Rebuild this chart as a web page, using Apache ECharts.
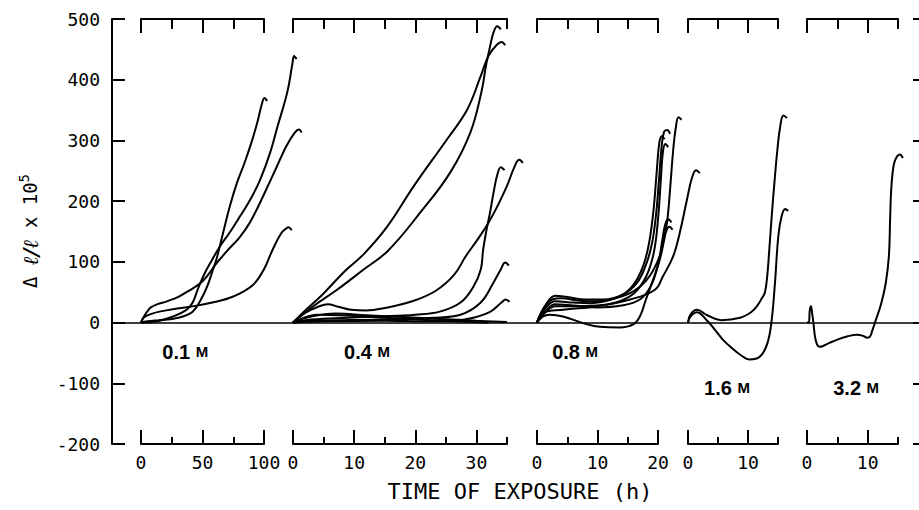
<!DOCTYPE html>
<html><head><meta charset="utf-8">
<script src="https://cdn.jsdelivr.net/npm/echarts@6/dist/echarts.min.js"></script>
<style>html,body{margin:0;padding:0;background:#fff}#c{width:919px;height:510px}</style>
</head><body><div id="c"></div>
<script>
// ---------- data ----------
const yTickValues = [-200, -100, 0, 100, 200, 300, 400, 500];
const panelNames = ['0.1', '0.4', '0.8', '1.6', '3.2'];
const panelMax = [100, 35, 20, 15, 15];
const majorTicks = [[0, 50, 100], [0, 10, 20, 30], [0, 10, 20], [0, 10], [0, 10]];
const minorTicks = [[25, 75], [5, 15, 25, 35], [5, 15], [5, 15], [5, 15]];

// 0.1 M
const m01_a = [[0,0],[5,2],[15,4],[25,6],[34,10],[42,18],[48,35],[53.7,59],[58.5,87],[62,109],[67,150],[72,190],[78,230],[84,262],[90,298],[95,333],[98,358],[100.5,370],[102.5,365]];
const m01_b = [[0,0],[13,2],[26,10],[37,21],[42,33],[46,54],[52,82],[58,104],[64,125],[72,148],[80.5,175],[89,203],[97,236],[105,280],[111,323],[119,380],[123,425],[124.5,439],[126.5,434]];
const m01_c = [[0,0],[3,12],[5,18],[8,25],[13,30],[21,35],[30,42],[37,50],[50,68],[62,99],[70,118],[80,140],[88,163],[95,190],[102,220],[110,255],[118,290],[125,313],[128.5,318],[130.5,313]];
const m01_d = [[0,0],[2,8],[8,14],[15,18],[29,23],[40,26],[58,33],[75,43],[91,62],[100,88],[107,120],[114,147],[118,155],[120,157],[122.5,152]];
// 0.4 M
const m04_a = [[0,0],[2,20],[5,48],[8.5,85],[11.5,112],[15.4,158],[19.7,224],[25.2,302],[28.5,351],[30.7,406],[32,440],[33.2,456],[34.1,462],[34.7,457]];
const m04_b = [[0,0],[3.3,27],[7.2,54],[11.5,87],[15.5,118],[20.8,181],[25.7,247],[29,313],[30.8,379],[31.6,425],[32.3,458],[32.8,478],[33.4,488],[34,483]];
const m04_c = [[0,0],[2,16],[4.1,26],[5.7,30],[7.4,26],[9.5,21],[12,20],[15,24],[19.5,35],[23.3,52],[26.3,78],[28.3,110],[30.2,137],[32,165],[33.5,193],[35,225],[36.2,256],[37,268],[37.6,263]];
const m04_d = [[0,0],[3,5],[9,8],[14,10],[20,13],[24,18],[27.4,33],[29.5,59],[30.7,87],[31.1,120],[31.6,150],[32.2,180],[32.8,214],[33.4,243],[34,256],[34.6,251]];
const m04_e = [[0,0],[3.3,3],[14.3,5],[23,8],[27.4,13],[30.7,33],[32.8,66],[34,88],[34.7,99],[35.3,94]];
const m04_f = [[0,0],[5,2],[15,3],[22,2],[26,3],[29.5,8],[32.3,18],[34.1,33],[34.8,38],[35.4,34]];
const m04_g = [[0,0],[4,13],[10,11],[15,8],[20.5,5],[26,2],[32,0]];
const m04_h = [[0,0],[3,10],[7,15],[12,12],[18,9],[24,6],[30,3],[35,1]];
// 0.8 M
const m08_a = [[0,0],[1,22],[2.5,38],[4,40],[7,36],[10,35],[13,40],[16,52],[18.5,75],[20.3,110],[21,140],[21.5,165],[22,220],[22.5,283],[22.9,318],[23.4,338],[23.9,334]];
const m08_b = [[0,0],[1.5,30],[3,44],[5,42],[8,38],[11,38],[14,45],[16.5,65],[18,95],[19,130],[19.7,180],[20.2,240],[20.6,290],[21,314],[21.5,317],[22,311]];
const m08_c = [[0,0],[1.5,25],[3,35],[6,33],[9,32],[12,37],[15,52],[17,80],[18.3,120],[19.2,180],[19.8,250],[20.2,295],[20.6,307],[21.1,302]];
const m08_d = [[0,0],[1.5,18],[3,27],[6,27],[10,28],[13,33],[16,48],[18,75],[19.3,115],[20,170],[20.5,240],[20.8,280],[21.2,294],[21.7,289]];
const m08_e = [[0,0],[1,16],[4.3,21],[10,27],[15.4,38],[19.5,54],[20.8,76],[22.5,109],[23.6,148],[24.8,203],[25.6,238],[26.3,251],[26.9,246]];
const m08_f = [[0,0],[1.5,20],[3,30],[6,28],[10,25],[14,28],[17,38],[18.8,60],[20,95],[20.7,135],[21.2,162],[21.7,170],[22.2,165]];
const m08_g = [[0,0],[1,10],[2.1,13],[4.3,10],[8.3,-3],[10.4,-7],[13.7,-8],[15.9,-3],[17,10],[18,38],[19.2,71],[20.3,104],[21,135],[21.4,152],[21.9,158],[22.4,153]];
// 1.6 M
const m16_a = [[0,0],[0.4,13],[1.5,21],[3.2,12],[5.5,4],[8.7,8],[10.5,17],[11.5,27],[12.3,40],[12.8,49],[13.2,76],[13.55,120],[13.95,175],[14.4,230],[14.9,285],[15.4,325],[15.9,341],[16.5,337]];
const m16_b = [[0,0],[0.4,10],[1.5,17],[3.2,3],[4.5,-12],[5.8,-28],[7.3,-42],[8.7,-53],[10.3,-61],[12,-56],[13.2,-35],[13.9,0],[14.5,66],[15.05,142],[15.6,175],[16.2,187],[16.7,184]];
// 3.2 M
const m32_a = [[0,0],[0.3,0],[0.45,20],[0.65,27],[0.85,15],[1.05,0],[1.35,-25],[1.7,-37],[2.1,-40],[3,-37],[3.8,-33],[5,-28],[6.6,-23],[8.2,-20],[9.3,-22],[9.9,-25],[10.4,-23],[10.8,-12],[11.2,0],[12.2,30],[13,66],[13.5,110],[13.7,170],[13.9,222],[14.3,260],[14.8,273],[15.3,277],[15.8,271]];

const panelCurves = [
  [m01_a, m01_b, m01_c, m01_d],
  [m04_a, m04_b, m04_c, m04_d, m04_e, m04_f, m04_g, m04_h],
  [m08_a, m08_b, m08_c, m08_d, m08_e, m08_f, m08_g],
  [m16_a, m16_b],
  [m32_a]
];

// ---------- layout ----------
const MONO = 'DejaVu Sans Mono';
const TOP = 19, BOTTOM = 66;
const panelBoxes = [
  {left: 141, width: 123},
  {left: 293, width: 214},
  {left: 537, width: 121},
  {left: 688, width: 90},
  {left: 807, width: 91}
];
// extended data range per panel (curves run past the scale bars)
const dataMax = [140, 40, 30, 18, 17];
const labelAnchors = [[36, -48], [12.1, -48], [6.3, -48], [6.5, -107], [8.1, -107]];

const chart = echarts.init(document.getElementById('c'), null, {renderer: 'svg'});

const grid = [{left: 112, right: 0, top: TOP, bottom: BOTTOM}];
const xAxis = [{
  gridIndex: 0, type: 'value', min: 0, max: 1,
  axisLine: {show: true, onZero: true, lineStyle: {color: '#000', width: 1.5}},
  axisTick: {show: false}, axisLabel: {show: false}, splitLine: {show: false}
}];
const yAxis = [{
  gridIndex: 0, type: 'value', min: -200, max: 500, interval: 100, position: 'left',
  axisLine: {show: true, lineStyle: {color: '#000', width: 2}},
  axisTick: {show: true, inside: true, length: 13, customValues: yTickValues, lineStyle: {color: '#000', width: 2}},
  axisLabel: {show: true, margin: 12, customValues: yTickValues, fontFamily: MONO, fontSize: 18, color: '#000'},
  splitLine: {show: false}
}, {
  gridIndex: 0, type: 'value', min: -200, max: 500, interval: 100, position: 'right',
  axisLine: {show: false},
  axisTick: {show: true, inside: true, length: 6, lineStyle: {color: '#000', width: 2}},
  axisLabel: {show: false}, splitLine: {show: false}
}];

const series = [];
panelBoxes.forEach((b, i) => {
  // axis grid (scale bars)
  const gi = grid.length;
  grid.push({left: b.left, width: b.width, top: TOP, bottom: BOTTOM});
  const base = {gridIndex: gi, type: 'value', min: 0, max: panelMax[i], splitLine: {show: false}};
  xAxis.push(Object.assign({}, base, {
    position: 'bottom',
    axisLine: {show: true, onZero: false, lineStyle: {color: '#000', width: 2}},
    axisTick: {show: true, inside: true, length: 14, customValues: majorTicks[i], lineStyle: {color: '#000', width: 2}},
    axisLabel: {show: true, margin: 9, customValues: majorTicks[i], fontFamily: MONO, fontSize: 18, color: '#000', showMinLabel: true, showMaxLabel: true}
  }));
  xAxis.push(Object.assign({}, base, {
    position: 'bottom',
    axisLine: {show: false, onZero: false},
    axisTick: {show: true, inside: true, length: 7, customValues: minorTicks[i], lineStyle: {color: '#000', width: 2}},
    axisLabel: {show: false}
  }));
  xAxis.push(Object.assign({}, base, {
    position: 'top',
    axisLine: {show: true, onZero: false, lineStyle: {color: '#000', width: 2}},
    axisTick: {show: true, inside: true, length: 14, customValues: majorTicks[i], lineStyle: {color: '#000', width: 2}},
    axisLabel: {show: false}
  }));
  xAxis.push(Object.assign({}, base, {
    position: 'top',
    axisLine: {show: false, onZero: false},
    axisTick: {show: true, inside: true, length: 10, customValues: minorTicks[i], lineStyle: {color: '#000', width: 2}},
    axisLabel: {show: false}
  }));
  yAxis.push({gridIndex: gi, type: 'value', min: -200, max: 500, show: false});

  // data grid: same origin and scale, extended to the right
  const gd = grid.length;
  grid.push({left: b.left, width: b.width * dataMax[i] / panelMax[i], top: TOP, bottom: BOTTOM});
  const xd = xAxis.length;
  xAxis.push({gridIndex: gd, type: 'value', min: 0, max: dataMax[i], show: false});
  const yd = yAxis.length;
  yAxis.push({gridIndex: gd, type: 'value', min: -200, max: 500, show: false});

  panelCurves[i].forEach((c, k) => {
    const s = {
      type: 'line', xAxisIndex: xd, yAxisIndex: yd, data: c,
      symbol: 'none', clip: false, smooth: 0.4,
      lineStyle: {color: '#000', width: 2}, silent: true, z: 3
    };
    if (k === 0) {
      s.markPoint = {
        symbol: 'circle', symbolSize: 1, silent: true,
        itemStyle: {color: 'rgba(0,0,0,0)'},
        data: [{
          coord: labelAnchors[i],
          label: {
            show: true, position: 'inside',
            formatter: '{n|' + panelNames[i] + ' }{m|M}',
            rich: {
              n: {fontFamily: 'Liberation Sans', fontWeight: 'bold', fontSize: 20, color: '#000'},
              m: {fontFamily: 'Liberation Sans', fontWeight: 'bold', fontSize: 15, color: '#000'}
            }
          }
        }]
      };
    }
    series.push(s);
  });
});

chart.setOption({
  animation: false,
  backgroundColor: '#fff',
  grid, xAxis, yAxis, series,
  graphic: [{
    type: 'text', x: 30, y: 231, rotation: Math.PI / 2,
    style: {
      text: '{a|Δ }{l|ℓ/ℓ}{a| x 10}{s|5}',
      align: 'center', verticalAlign: 'middle',
      rich: {
        a: {fontFamily: MONO, fontSize: 19, fill: '#000', lineHeight: 26},
        l: {fontFamily: 'DejaVu Serif', fontStyle: 'italic', fontWeight: 'bold', fontSize: 21, fill: '#000', lineHeight: 26},
        s: {fontFamily: MONO, fontSize: 14, fill: '#000', verticalAlign: 'top', lineHeight: 14}
      }
    }
  }, {
    type: 'text', x: 520, y: 491,
    style: {text: 'TIME OF EXPOSURE (h)', font: '22px "DejaVu Sans Mono"', fill: '#000', align: 'center', verticalAlign: 'middle'}
  }]
});
</script>
</body></html>
